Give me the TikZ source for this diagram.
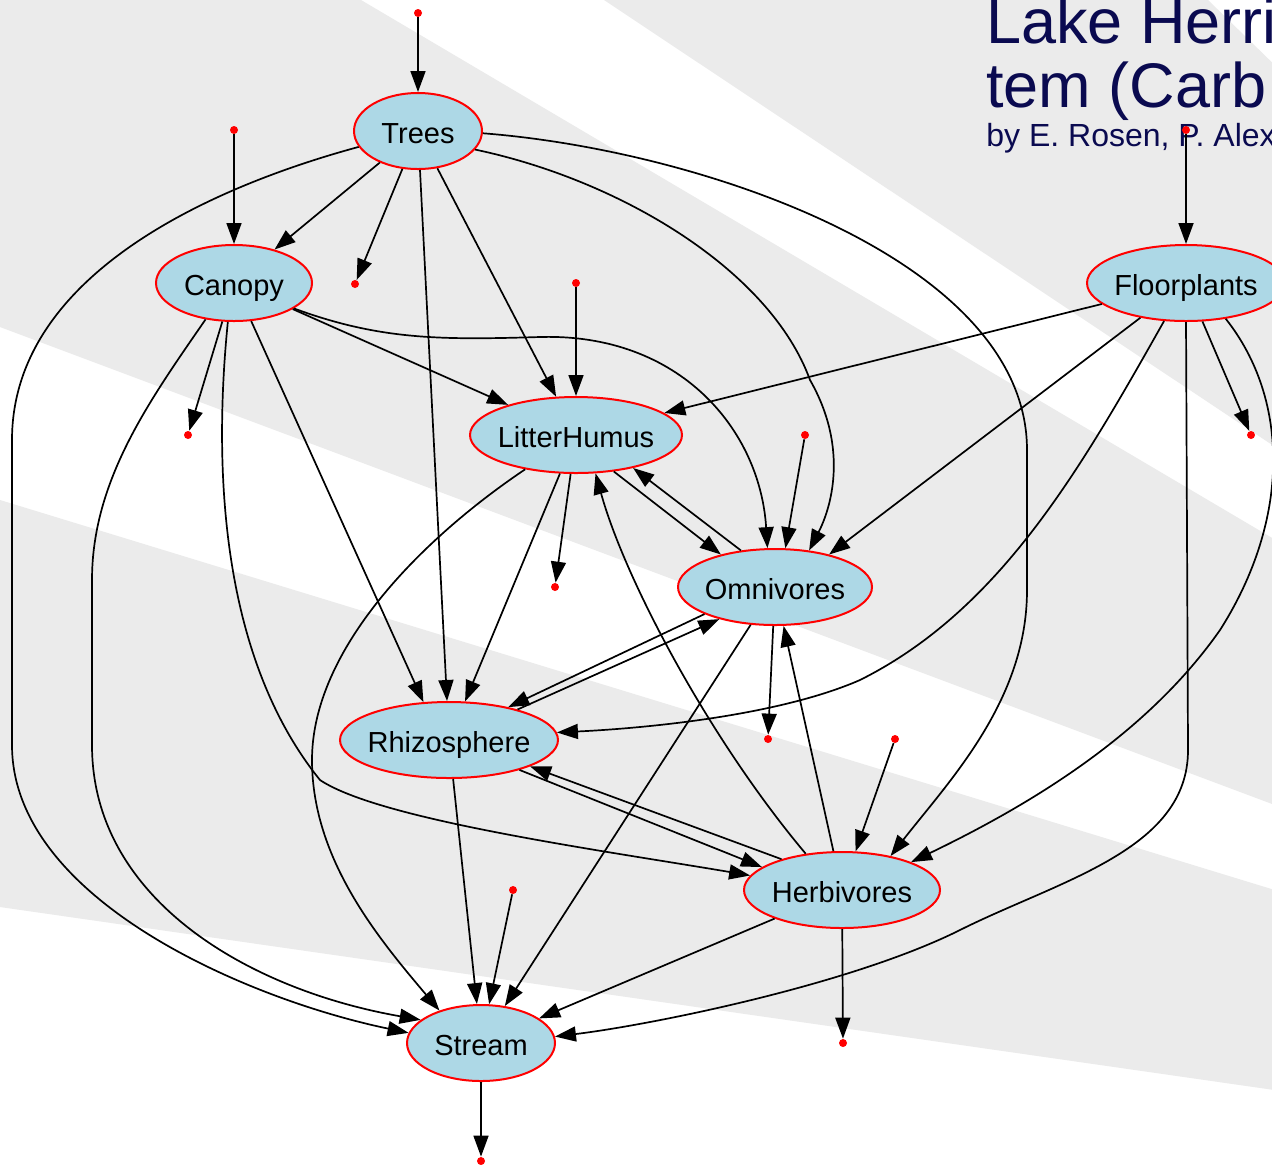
\documentclass[tikz,border=0pt]{standalone}
\usepackage{fontspec}
\setmainfont{Liberation Sans}
\usepackage{xcolor}
\usetikzlibrary{shapes.geometric,arrows.meta}
\definecolor{poolblue}{HTML}{ADD8E6}
\definecolor{bandgray}{HTML}{EBEBEB}
\definecolor{inkblue}{HTML}{0A0A50}

\begin{document}
\begin{tikzpicture}[x=0.5pt,y=-0.5pt,
        pool/.style={ellipse,draw=red,line width=1pt,fill=poolblue,inner xsep=-3pt,inner ysep=0pt,
            minimum height=38pt,text height=12pt,text depth=0pt,font=\fontsize{14.5}{17}\selectfont},
        reddot/.style={circle,fill=red,inner sep=0pt,minimum size=4pt},
        transfer/.style={line width=0.85pt,-{Triangle[length=10.5pt,width=7.5pt]}},
        headline/.style={anchor=base west,inner sep=0pt,text=inkblue,font=\fontsize{31.5}{33}\selectfont},
        byline/.style={anchor=base west,inner sep=0pt,text=inkblue,font=\fontsize{16}{18}\selectfont}]

                        \useasboundingbox (0,0) rectangle (1272,1164);
                        \clip (0,0) rectangle (1272,1164);
                        \fill[white] (0,0) rectangle (1272,1164);
                        \coordinate (hub) at (2507,1267);
                        \fill[bandgray] (0,0) -- (361,0) -- (hub) -- (0,327) -- cycle;
                        \fill[bandgray] (604,0) -- (1208,0) -- (hub) -- cycle;
                        \fill[bandgray] (0,500) -- (hub) -- (0,907) -- cycle;

                        \node (title1) at (986,43) [headline] {Lake Herri};
                        \node (title2) at (986,107) [headline] {tem (Carb};
                        \node (credit) at (986,146) [byline] {by E. Rosen, P. Alex};

                        \node (trees) at (418,131) [pool,minimum width=64pt] {Trees};
                        \node (canopy) at (234,283) [pool,minimum width=78pt] {Canopy};
                        \node (floor) at (1186,283) [pool,minimum width=99pt] {Floorplants};
                        \node (litter) at (576,435) [pool,minimum width=106pt] {LitterHumus};
                        \node (omni) at (775,587) [pool,minimum width=97pt] {Omnivores};
                        \node (rhizo) at (449,740) [pool,minimum width=109pt] {Rhizosphere};
                        \node (herb) at (842,890) [pool,minimum width=98pt] {Herbivores};
                        \node (stream) at (481,1043) [pool,minimum width=74pt] {Stream};

                        \node (in1) at (418,13) [reddot] {};
                        \node (in2) at (234,130) [reddot] {};
                        \node (in3) at (576,283) [reddot] {};
                        \node (in4) at (1186,130) [reddot] {};
                        \node (in5) at (805,435) [reddot] {};
                        \node (in6) at (895,739) [reddot] {};
                        \node (in7) at (513,890) [reddot] {};
                        \node (out1) at (355,284) [reddot] {};
                        \node (out2) at (188,435) [reddot] {};
                        \node (out3) at (1251,435) [reddot] {};
                        \node (out4) at (555,587) [reddot] {};
                        \node (out5) at (768,739) [reddot] {};
                        \node (out6) at (843,1043) [reddot] {};
                        \node (out7) at (481,1161) [reddot] {};

                    \draw[transfer] (in1) -- (trees);
                    \draw[transfer] (in2) -- (canopy);
                    \draw[transfer] (in3) -- (litter);
                    \draw[transfer] (in4) -- (floor);
                    \draw[transfer] (in5) -- (omni.75);
                    \draw[transfer] (in6) -- (herb);
                    \draw[transfer] (in7) -- (stream);
                    \draw[transfer] (trees) -- (out1);
                    \draw[transfer] (canopy) -- (out2);
                    \draw[transfer] (floor) -- (out3);
                    \draw[transfer] (litter) -- (out4);
                    \draw[transfer] (omni) -- (out5);
                    \draw[transfer] (herb) -- (out6);
                    \draw[transfer] (stream) -- (out7);

                    \draw[transfer] (trees) -- (canopy);
                    \draw[transfer] (trees) -- (litter);
                    \draw[transfer] (trees) -- (rhizo);
                    \draw[transfer] (canopy) -- (litter);
                    \draw[transfer] (canopy) -- (rhizo.124);
                    \draw[transfer] (floor) -- (litter);
                    \draw[transfer] (floor) -- (omni.31);
                    \draw[transfer] (litter) -- (rhizo);
                    \draw[transfer] (litter.316) -- (omni.149);
                    \draw[transfer] (omni.133) -- (litter.330);
                    \draw[transfer] (omni.201) -- (rhizo.29);
                    \draw[transfer] (rhizo.24) -- (omni.210);
                    \draw[transfer] (omni) -- (stream);
                    \draw[transfer] (herb) -- (omni);
                    \draw[transfer] (herb.153) -- (rhizo.342);
                    \draw[transfer] (rhizo.337) -- (herb.164);
                    \draw[transfer] (herb) -- (stream);
                    \draw[transfer] (rhizo) -- (stream);

                    \draw[transfer] (trees.195) .. controls (200,190) and (12,280) .. (12,440) -- (12,745) .. controls (12,900) and (250,1000) .. (stream.172);
                    \draw[transfer] (trees.342) .. controls (620,180) and (770,270) .. (810,380) .. controls (850,450) and (830,510) .. (omni.47);
                    \draw[transfer] (trees.358) .. controls (700,150) and (1027,260) .. (1027,450) -- (1027,590) .. controls (1027,700) and (950,780) .. (herb.35);
                    \draw[transfer] (canopy.337) .. controls (380,340) and (440,340) .. (540,337) .. controls (680,333) and (760,430) .. (omni.101);
                    \draw[transfer] (canopy.261) .. controls (215,450) and (215,650) .. (320,780) .. controls (380,820) and (600,850) .. (herb.171);
                    \draw[transfer] (canopy.232) .. controls (150,400) and (92,480) .. (92,580) -- (92,745) .. controls (92,900) and (250,990) .. (stream.159);
                    \draw[transfer] (floor.240) .. controls (1080,470) and (1000,610) .. (860,680) .. controls (780,715) and (650,728) .. (rhizo.4);
                    \draw[transfer] (floor.318) .. controls (1290,400) and (1290,520) .. (1220,630) .. controls (1150,730) and (1040,800) .. (herb.22);
                    \draw[transfer] (floor.270) -- (1188,750) .. controls (1188,850) and (1060,880) .. (960,930) .. controls (850,985) and (650,1025) .. (stream.5);
                    \draw[transfer] (litter.214) .. controls (420,540) and (312,650) .. (312,760) .. controls (312,860) and (380,940) .. (stream.142);
                    \draw[transfer] (herb.135) .. controls (710,740) and (625,580) .. (litter.297);
                \end{tikzpicture}
\end{document}
